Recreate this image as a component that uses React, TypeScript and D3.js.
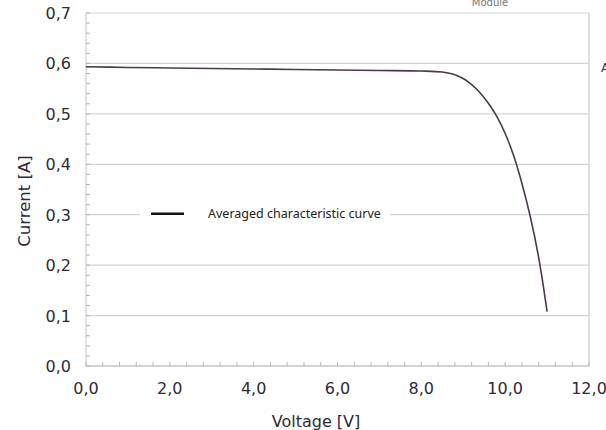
import { useEffect, useRef } from 'react';
import * as d3 from 'd3';

// averaged I-V curve of the module
const VOLTAGE = [0, 1, 2, 3, 4, 5, 6, 7, 8, 8.5, 8.75, 9.0, 9.2, 9.4, 9.6, 9.8, 10.0, 10.2, 10.4, 10.6, 10.8, 11.0];
const CURRENT = [0.5935, 0.592, 0.591, 0.590, 0.589, 0.588, 0.587, 0.586, 0.585, 0.583, 0.579, 0.570, 0.558, 0.542, 0.521, 0.495, 0.461, 0.418, 0.362, 0.296, 0.215, 0.108];

const X_TICKS = [0, 2, 4, 6, 8, 10, 12];
const Y_TICKS = [0, 0.1, 0.2, 0.3, 0.4, 0.5, 0.6, 0.7];
const LEGEND_LABEL = 'Averaged characteristic curve';

const W = 606;
const H = 430;
const MARGIN = { top: 13, right: 17, bottom: 64, left: 86 };
const FONT = 'DejaVu Sans, sans-serif';
const INK = '#2e2a3a';

export default function App() {
  const svgRef = useRef<SVGSVGElement | null>(null);

  useEffect(() => {
    if (!svgRef.current) return;
    const svg = d3.select(svgRef.current);
    svg.selectAll('*').remove();

    const x = d3.scaleLinear().domain([0, 12]).range([MARGIN.left, W - MARGIN.right]);
    const y = d3.scaleLinear().domain([0, 0.7]).range([H - MARGIN.bottom, MARGIN.top]);
    const fmt = (d: number) => d.toFixed(1).replace('.', ',');

    svg.append('rect').attr('width', W).attr('height', H).attr('fill', '#fff');

    // horizontal grid
    svg.append('g')
      .selectAll('line')
      .data(Y_TICKS)
      .join('line')
      .attr('x1', x(0)).attr('x2', x(12))
      .attr('y1', d => y(d)).attr('y2', d => y(d))
      .attr('stroke', '#d4d4dc')
      .attr('stroke-width', 1.2);

    // frame: left, right, bottom
    [0, 12].forEach(v => {
      svg.append('line')
        .attr('x1', x(v)).attr('x2', x(v)).attr('y1', y(0)).attr('y2', y(0.7))
        .attr('stroke', '#cacad3').attr('stroke-width', 1.2);
    });
    svg.append('line')
      .attr('x1', x(0)).attr('x2', x(12)).attr('y1', y(0)).attr('y2', y(0))
      .attr('stroke', '#bcbcc5').attr('stroke-width', 1.2);

    // minor ticks
    svg.append('g')
      .selectAll('line')
      .data(d3.range(0, 0.7001, 0.02))
      .join('line')
      .attr('x1', x(0)).attr('x2', x(0) + 4)
      .attr('y1', d => y(d)).attr('y2', d => y(d))
      .attr('stroke', '#b4b4be');
    svg.append('g')
      .selectAll('line')
      .data(d3.range(0, 12.001, 0.4))
      .join('line')
      .attr('x1', d => x(d)).attr('x2', d => x(d))
      .attr('y1', y(0)).attr('y2', y(0) - 4)
      .attr('stroke', '#b4b4be');

    // tick labels
    svg.append('g')
      .selectAll('text')
      .data(Y_TICKS)
      .join('text')
      .attr('x', x(0) - 15)
      .attr('y', d => y(d) + 6)
      .attr('text-anchor', 'end')
      .attr('font-family', FONT)
      .attr('font-size', 16)
      .attr('fill', INK)
      .text(d => fmt(d));
    svg.append('g')
      .selectAll('text')
      .data(X_TICKS)
      .join('text')
      .attr('x', d => x(d))
      .attr('y', y(0) + 28)
      .attr('text-anchor', 'middle')
      .attr('font-family', FONT)
      .attr('font-size', 16)
      .attr('fill', INK)
      .text(d => fmt(d));

    // axis titles
    svg.append('text')
      .attr('x', 316)
      .attr('y', 427)
      .attr('text-anchor', 'middle')
      .attr('font-family', FONT)
      .attr('font-size', 16)
      .attr('fill', INK)
      .text('Voltage [V]');
    svg.append('text')
      .attr('transform', 'translate(30,201) rotate(-90)')
      .attr('text-anchor', 'middle')
      .attr('font-family', FONT)
      .attr('font-size', 16.5)
      .attr('fill', INK)
      .text('Current [A]');

    // curve
    const line = d3.line<number>()
      .x((_, i) => x(VOLTAGE[i]))
      .y(d => y(d))
      .curve(d3.curveCatmullRom.alpha(0.5));
    svg.append('path')
      .datum(CURRENT)
      .attr('d', line)
      .attr('fill', 'none')
      .attr('stroke', '#4a3a4c')
      .attr('stroke-width', 1.6);

    // legend (white box interrupts the grid line)
    const ly = y(0.3) - 1;
    svg.append('rect')
      .attr('x', 140).attr('y', ly - 8)
      .attr('width', 250).attr('height', 16)
      .attr('fill', '#fff');
    svg.append('line')
      .attr('x1', 151).attr('x2', 184)
      .attr('y1', ly).attr('y2', ly)
      .attr('stroke', '#111').attr('stroke-width', 2.4);
    svg.append('text')
      .attr('x', 208).attr('y', ly + 4)
      .attr('font-family', 'Noto Sans, sans-serif')
      .attr('font-size', 12.5)
      .attr('fill', '#222')
      .text(LEGEND_LABEL);

    // fragments clipped at the edges of the scan
    svg.append('text')
      .attr('x', 490).attr('y', 6)
      .attr('text-anchor', 'middle')
      .attr('font-family', FONT)
      .attr('font-size', 10)
      .attr('fill', '#777')
      .text('Module');
    svg.append('text')
      .attr('x', 601).attr('y', 72)
      .attr('font-family', FONT)
      .attr('font-size', 12)
      .attr('fill', '#2a3560')
      .text('A');
  }, []);

  return (
    <svg
      ref={svgRef}
      width={W}
      height={H}
      style={{ position: 'absolute', left: 0, top: 0, display: 'block' }}
    />
  );
}
